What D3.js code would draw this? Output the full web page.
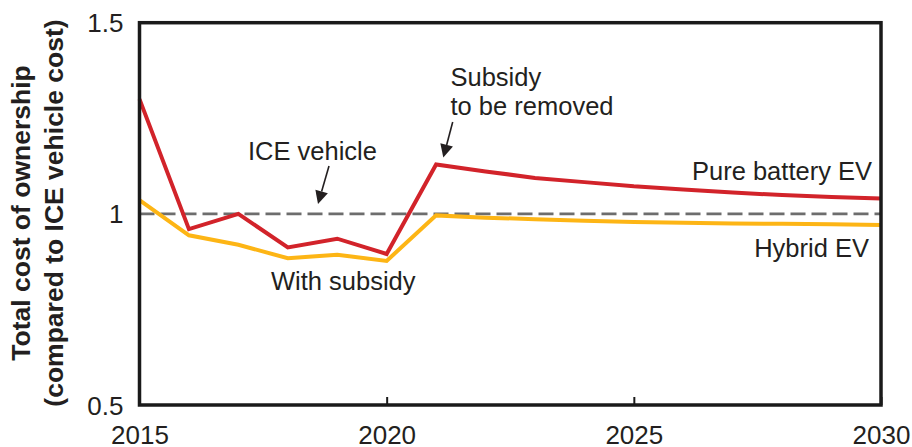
<!DOCTYPE html>
<html><head><meta charset="utf-8">
<script src="https://cdn.jsdelivr.net/npm/d3@7"></script>
<style>
html,body{margin:0;padding:0;background:#fff;}
svg{display:block;font-family:"Liberation Sans",Arial,Helvetica,sans-serif;}
</style></head>
<body>
<svg id="chart" width="912" height="447"></svg>
<script>
const years = [2015,2016,2017,2018,2019,2020,2021,2022,2023,2024,2025,2026,2027,2028,2029,2030];
const pureBatteryEV = [1.30,0.96,1.00,0.912,0.935,0.895,1.129,1.111,1.094,1.083,1.072,1.064,1.056,1.049,1.044,1.040];
const hybridEV = [1.036,0.944,0.919,0.884,0.893,0.877,0.996,0.990,0.986,0.982,0.979,0.977,0.975,0.974,0.973,0.971];
const iceBaseline = 1.0;
const xTickValues = [2015,2020,2025,2030];
const yTickValues = [0.5,1,1.5];
const yTickLabels = ["0.5","1","1.5"];
const yTitleLines = ["Total cost of ownership","(compared to ICE vehicle cost)"];

const svg = d3.select("#chart");
const pLeft = 139.5, pRight = 881, pTop = 22.7, pBottom = 405;
const x = d3.scaleLinear().domain([2015,2030]).range([pLeft,pRight]);
const y = d3.scaleLinear().domain([0.5,1.5]).range([pBottom,pTop]);
const textColor = "#231f20";

// ICE baseline dashed
svg.append("line")
  .attr("x1", x(2015)).attr("x2", x(2030))
  .attr("y1", y(iceBaseline)).attr("y2", y(iceBaseline))
  .attr("stroke", "#6d6d6d").attr("stroke-width", 2.6)
  .attr("stroke-dasharray", "15,6");

const line = d3.line().x((d,i)=>x(years[i])).y(d=>y(d));
svg.append("path").datum(hybridEV).attr("d", line)
  .attr("fill","none").attr("stroke","#fdb515").attr("stroke-width",4).attr("stroke-linejoin","miter");
svg.append("path").datum(pureBatteryEV).attr("d", line)
  .attr("fill","none").attr("stroke","#d2232a").attr("stroke-width",4).attr("stroke-linejoin","miter");

// Frame
svg.append("rect").attr("x",pLeft).attr("y",pTop).attr("width",pRight-pLeft).attr("height",pBottom-pTop)
  .attr("fill","none").attr("stroke","#1a1a1a").attr("stroke-width",3.5);

// X axis
const xAxis = svg.append("g").attr("transform",`translate(0,${pBottom})`)
  .call(d3.axisBottom(x).tickValues(xTickValues).tickFormat(d3.format("d")).tickSize(-8).tickPadding(20.5));
xAxis.select(".domain").remove();
xAxis.selectAll(".tick line").attr("stroke","#1a1a1a").attr("stroke-width",2);
xAxis.selectAll("text").attr("font-size",26).attr("fill",textColor).attr("font-family","Liberation Sans, Arial, sans-serif");

// Y axis
const yAxis = svg.append("g").attr("transform",`translate(${pLeft},0)`)
  .call(d3.axisLeft(y).tickValues(yTickValues).tickFormat((d,i)=>yTickLabels[i]).tickSize(0).tickPadding(16));
yAxis.select(".domain").remove();
yAxis.selectAll("text").attr("font-size",26).attr("fill",textColor).attr("font-family","Liberation Sans, Arial, sans-serif").attr("dy","0.35em");

// Y title
const yt = svg.append("g").attr("font-weight","bold").attr("font-size",26.5).attr("fill",textColor);
yt.append("text").attr("transform","translate(30,213) rotate(-90)").attr("text-anchor","middle").text(yTitleLines[0]);
yt.append("text").attr("transform","translate(63,213) rotate(-90)").attr("text-anchor","middle").text(yTitleLines[1]);

// Annotations
const ann = svg.append("g").attr("font-size",25.5).attr("fill",textColor);
ann.append("text").attr("x",248).attr("y",159.5).text("ICE vehicle");
ann.append("text").attr("x",450.5).attr("y",86).text("Subsidy");
ann.append("text").attr("x",450.5).attr("y",115).text("to be removed");
ann.append("text").attr("x",872).attr("y",179.5).attr("text-anchor","end").text("Pure battery EV");
ann.append("text").attr("x",869).attr("y",257).attr("text-anchor","end").text("Hybrid EV");
ann.append("text").attr("x",271).attr("y",290).text("With subsidy");

// Arrows
function arrow(x1,y1,x2,y2){
  const ang = Math.atan2(y2-y1,x2-x1);
  const hl = 13, hw = 6.5;
  const bx = x2 - hl*Math.cos(ang), by = y2 - hl*Math.sin(ang);
  svg.append("line").attr("x1",x1).attr("y1",y1).attr("x2",bx).attr("y2",by)
    .attr("stroke","#231f20").attr("stroke-width",1.6);
  const px = -Math.sin(ang)*hw, py = Math.cos(ang)*hw;
  svg.append("path").attr("d",`M${x2},${y2}L${bx+px},${by+py}L${bx-px},${by-py}Z`).attr("fill","#231f20");
}
arrow(329,166,318,204);
arrow(452.7,122,443.3,157.5);
</script>
</body></html>
